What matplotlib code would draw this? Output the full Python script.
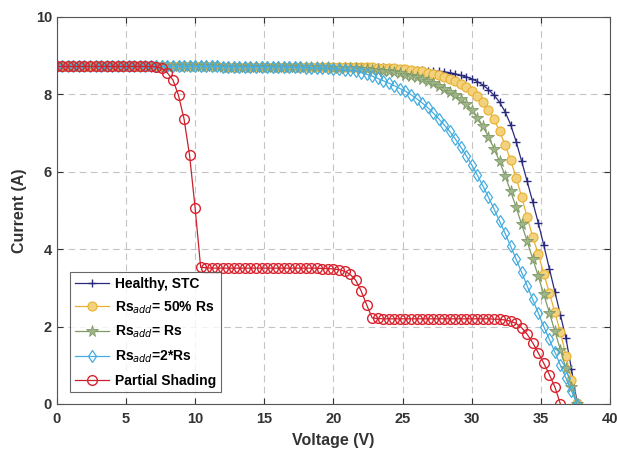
import numpy as np
import matplotlib
matplotlib.use("Agg")
import matplotlib.pyplot as plt

plt.rcParams['font.family'] = ['Liberation Sans', 'DejaVu Sans']

# voltage sweep used for all I-V curves (V)
voltage = np.round(np.arange(95) * 0.4, 1)

# module current (A) for each case
i_healthy = [
    8.72, 8.72, 8.72, 8.72, 8.72, 8.72, 8.72, 8.72, 8.72, 8.72,
    8.72, 8.72, 8.72, 8.72, 8.72, 8.72, 8.72, 8.72, 8.72, 8.72,
    8.72, 8.72, 8.72, 8.72, 8.72, 8.72, 8.72, 8.72, 8.72, 8.72,
    8.71, 8.71, 8.71, 8.71, 8.71, 8.71, 8.71, 8.71, 8.71, 8.71,
    8.71, 8.71, 8.71, 8.71, 8.71, 8.71, 8.71, 8.71, 8.71, 8.71,
    8.70, 8.70, 8.70, 8.70, 8.70, 8.70, 8.70, 8.70, 8.70, 8.70,
    8.68, 8.67, 8.66, 8.65, 8.64, 8.63, 8.62, 8.61, 8.60, 8.59,
    8.58, 8.56, 8.53, 8.49, 8.45, 8.40, 8.33, 8.24, 8.12, 7.98,
    7.80, 7.55, 7.22, 6.78, 6.27, 5.75, 5.22, 4.68, 4.10, 3.50,
    2.90, 2.30, 1.70, 0.90, 0.05]

i_rs_half = [
    8.72, 8.72, 8.72, 8.72, 8.72, 8.72, 8.72, 8.72, 8.72, 8.72,
    8.72, 8.72, 8.72, 8.72, 8.72, 8.72, 8.72, 8.72, 8.72, 8.72,
    8.72, 8.72, 8.72, 8.72, 8.72, 8.72, 8.72, 8.72, 8.72, 8.72,
    8.71, 8.71, 8.71, 8.71, 8.71, 8.71, 8.71, 8.71, 8.71, 8.71,
    8.71, 8.71, 8.71, 8.71, 8.71, 8.71, 8.71, 8.71, 8.71, 8.71,
    8.70, 8.70, 8.70, 8.70, 8.70, 8.70, 8.70, 8.70, 8.69, 8.69,
    8.68, 8.67, 8.66, 8.65, 8.63, 8.61, 8.59, 8.56, 8.53, 8.49,
    8.45, 8.40, 8.34, 8.27, 8.18, 8.08, 7.96, 7.80, 7.60, 7.35,
    7.05, 6.70, 6.30, 5.85, 5.35, 4.82, 4.32, 3.87, 3.37, 2.87,
    2.37, 1.85, 1.25, 0.63, 0.02]

i_rs_full = [
    8.72, 8.72, 8.72, 8.72, 8.72, 8.72, 8.72, 8.72, 8.72, 8.72,
    8.72, 8.72, 8.72, 8.72, 8.72, 8.72, 8.72, 8.72, 8.72, 8.72,
    8.72, 8.72, 8.72, 8.72, 8.72, 8.72, 8.72, 8.72, 8.72, 8.72,
    8.71, 8.71, 8.71, 8.71, 8.71, 8.71, 8.71, 8.71, 8.71, 8.71,
    8.71, 8.71, 8.71, 8.71, 8.71, 8.70, 8.70, 8.70, 8.70, 8.70,
    8.69, 8.69, 8.68, 8.68, 8.67, 8.66, 8.65, 8.64, 8.63, 8.61,
    8.59, 8.57, 8.54, 8.51, 8.48, 8.44, 8.40, 8.35, 8.29, 8.22,
    8.15, 8.07, 7.98, 7.88, 7.76, 7.60, 7.40, 7.17, 6.90, 6.60,
    6.27, 5.90, 5.50, 5.08, 4.64, 4.20, 3.75, 3.30, 2.83, 2.36,
    1.88, 1.40, 0.92, 0.45, 0.00]

i_rs_double = [
    8.72, 8.72, 8.72, 8.72, 8.72, 8.72, 8.72, 8.72, 8.72, 8.72,
    8.72, 8.72, 8.72, 8.72, 8.72, 8.72, 8.72, 8.72, 8.72, 8.72,
    8.72, 8.72, 8.72, 8.72, 8.72, 8.72, 8.72, 8.72, 8.72, 8.72,
    8.71, 8.71, 8.71, 8.71, 8.71, 8.71, 8.71, 8.71, 8.71, 8.71,
    8.70, 8.70, 8.70, 8.70, 8.70, 8.69, 8.69, 8.68, 8.68, 8.67,
    8.66, 8.65, 8.63, 8.62, 8.60, 8.56, 8.52, 8.47, 8.41, 8.35,
    8.29, 8.22, 8.15, 8.08, 7.99, 7.89, 7.78, 7.66, 7.52, 7.37,
    7.21, 7.04, 6.85, 6.64, 6.41, 6.17, 5.91, 5.63, 5.34, 5.04,
    4.73, 4.41, 4.08, 3.74, 3.40, 3.05, 2.70, 2.35, 2.00, 1.67,
    1.34, 1.00, 0.67, 0.34, 0.00]

i_shading = [
    8.72, 8.72, 8.72, 8.72, 8.72, 8.72, 8.72, 8.72, 8.72, 8.72,
    8.72, 8.72, 8.72, 8.72, 8.72, 8.72, 8.72, 8.72, 8.71, 8.67,
    8.55, 8.37, 7.97, 7.36, 6.42, 5.06, 3.53, 3.52, 3.51, 3.51,
    3.51, 3.51, 3.51, 3.51, 3.51, 3.51, 3.51, 3.51, 3.51, 3.51,
    3.51, 3.51, 3.51, 3.51, 3.51, 3.51, 3.51, 3.51, 3.50, 3.50,
    3.49, 3.47, 3.43, 3.35, 3.20, 2.92, 2.56, 2.22, 2.21, 2.20,
    2.20, 2.20, 2.20, 2.20, 2.20, 2.20, 2.20, 2.20, 2.20, 2.20,
    2.20, 2.20, 2.20, 2.20, 2.20, 2.20, 2.20, 2.20, 2.20, 2.19,
    2.19, 2.17, 2.14, 2.08, 1.97, 1.80, 1.58, 1.32, 1.05, 0.76,
    0.44, 0.00]
v_shading = voltage[:len(i_shading)]

labels = ['Healthy, STC', r'Rs$_{add}$= 50% Rs', r'Rs$_{add}$= Rs',
          r'Rs$_{add}$=2*Rs', 'Partial Shading']

fig = plt.figure(figsize=(6.17, 4.57), dpi=100)
ax = fig.add_axes([0.092, 0.116, 0.897, 0.847])

ax.plot(voltage, i_healthy, color='#2a2a7c', lw=0.9, marker='+', ms=6,
        mew=1.0, label=labels[0])
ax.plot(voltage, i_rs_half, color='#e8b030', lw=0.9, marker='o', ms=6.5,
        mfc='#f3d27e', mec='#e8b030', mew=0.8, label=labels[1])
ax.plot(voltage, i_rs_full, color='#7f9a66', lw=0.9, marker='*', ms=8.5,
        mfc='#9fb489', mec='#7f9a66', mew=0.6, label=labels[2])
ax.plot(voltage, i_rs_double, color='#46ade0', lw=0.9, marker='d', ms=6.5,
        mfc='none', mec='#46ade0', mew=0.9, label=labels[3])
ax.plot(v_shading, i_shading, color='#c8202c', lw=0.9, marker='o', ms=7,
        mfc='none', mec='#d9232e', mew=1.0, label=labels[4])

ax.set_xlim(0, 40)
ax.set_ylim(0, 10)
ax.set_xticks(np.arange(0, 41, 5))
ax.set_yticks(np.arange(0, 11, 2))
ax.grid(True, linestyle=(0, (6, 4)), color='#c4c4c4', lw=0.8)
ax.tick_params(direction='in', top=True, right=True, length=4,
               labelsize=10.5, colors='#333333', width=0.8)
ax.tick_params(axis='x', pad=6)
for lab in ax.get_xticklabels() + ax.get_yticklabels():
    lab.set_fontweight('bold')
for sp in ax.spines.values():
    sp.set_color('#555555')
    sp.set_linewidth(0.8)

ax.set_xlabel('Voltage (V)', fontsize=11.5, fontweight='bold',
              color='#333333', labelpad=5)
ax.set_ylabel('Current (A)', fontsize=11.5, fontweight='bold',
              color='#333333', labelpad=6)

leg = ax.legend(loc='lower left', bbox_to_anchor=(0.012, 0.012),
                prop={'weight': 'bold', 'size': 10}, frameon=True,
                fancybox=False, edgecolor='#444444', borderpad=0.35,
                labelspacing=0.6, handlelength=2.4, handletextpad=0.45)
leg.get_frame().set_linewidth(0.8)

fig.savefig('out.png', dpi=100)
